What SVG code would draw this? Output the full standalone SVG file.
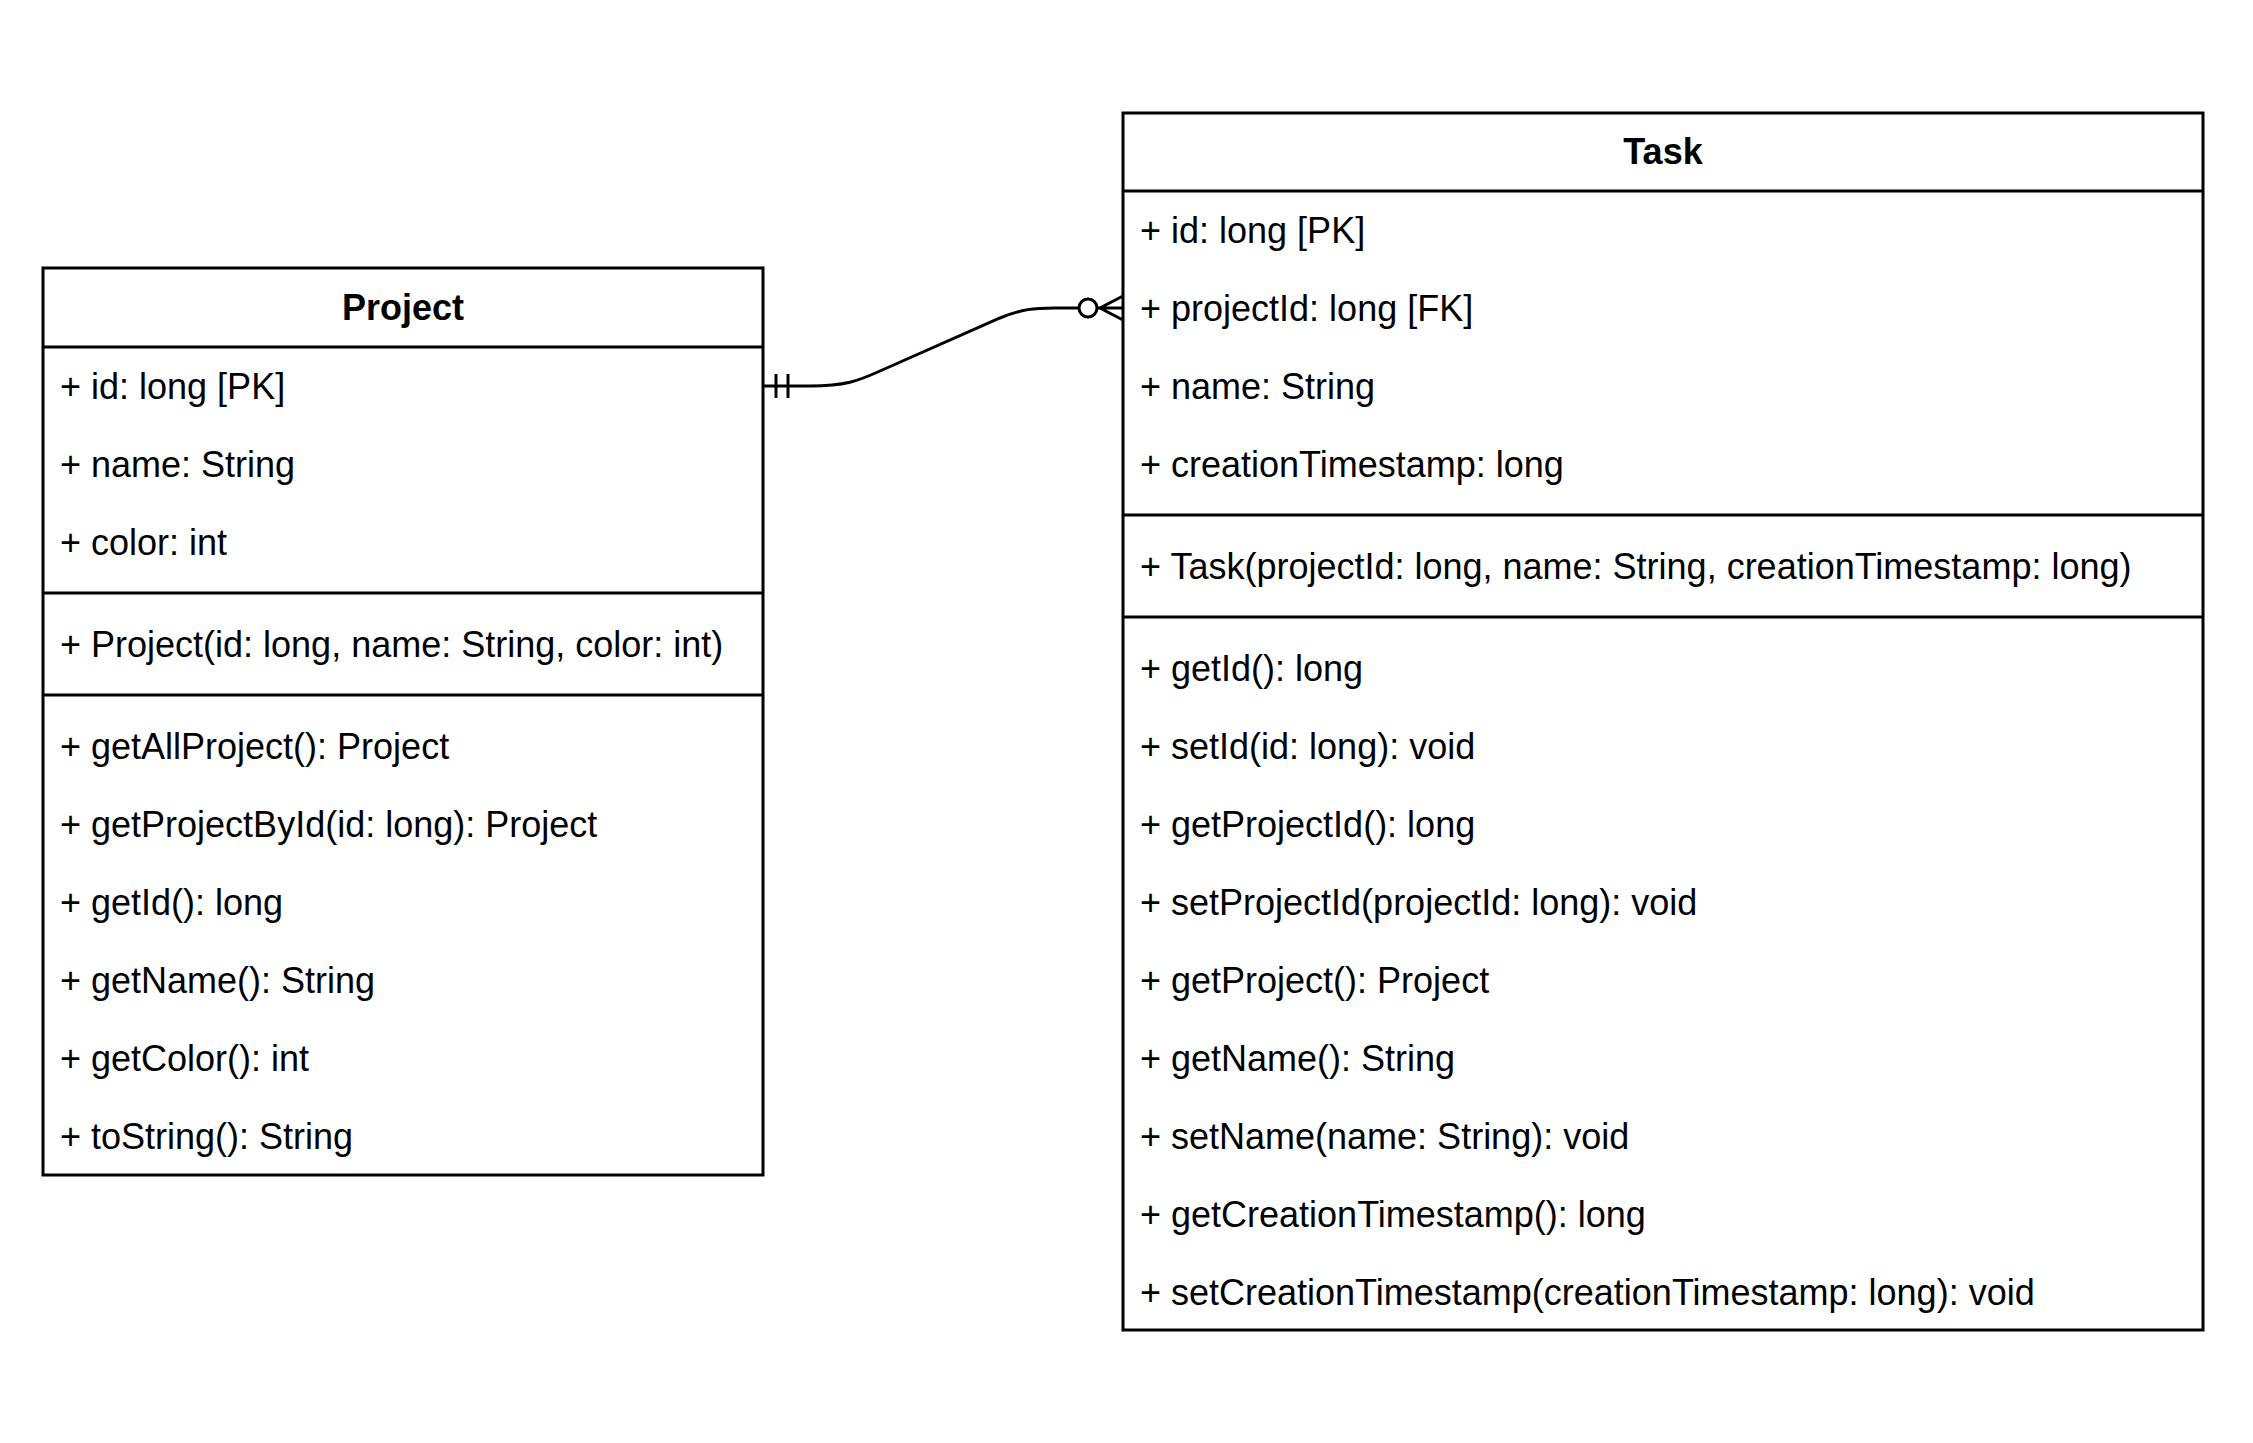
<svg xmlns="http://www.w3.org/2000/svg" width="2253" height="1443" viewBox="0 0 2253 1443">
<style>
.box{fill:#ffffff;stroke:#000000;stroke-width:3}
.ln{stroke:#000000;stroke-width:3;fill:none}
.t{font-family:"Liberation Sans",Arial,sans-serif;font-size:36px;fill:#000000}
.h{font-family:"Liberation Sans",Arial,sans-serif;font-size:36px;font-weight:bold;fill:#000000;text-anchor:middle}
</style>
<rect width="2253" height="1443" fill="#ffffff"/>
<g id="connectors">
<path class="ln" d="M763,386 L810,386 C845,386 858,381 880,371 L1000,318 C1022,309 1034,308 1055,308 L1078,308"/>
<line class="ln" x1="776" y1="374" x2="776" y2="398"/>
<line class="ln" x1="788" y1="374" x2="788" y2="398"/>
<circle class="ln" cx="1088" cy="308" r="9"/>
<path class="ln" d="M1097,308 L1123,308 M1123,296 L1100,308 L1123,320"/>
</g>
<g id="project">
<rect class="box" x="43" y="268" width="720" height="907"/>
<line class="ln" x1="43" y1="347" x2="763" y2="347"/>
<line class="ln" x1="43" y1="593" x2="763" y2="593"/>
<line class="ln" x1="43" y1="695" x2="763" y2="695"/>
<text class="h" x="403" y="320">Project</text>
<text class="t" x="60" y="399">+ id: long [PK]</text>
<text class="t" x="60" y="477">+ name: String</text>
<text class="t" x="60" y="555">+ color: int</text>
<text class="t" x="60" y="657">+ Project(id: long, name: String, color: int)</text>
<text class="t" x="60" y="759">+ getAllProject(): Project</text>
<text class="t" x="60" y="837">+ getProjectById(id: long): Project</text>
<text class="t" x="60" y="915">+ getId(): long</text>
<text class="t" x="60" y="993">+ getName(): String</text>
<text class="t" x="60" y="1071">+ getColor(): int</text>
<text class="t" x="60" y="1149">+ toString(): String</text>
</g>
<g id="task">
<rect class="box" x="1123" y="113" width="1080" height="1217"/>
<line class="ln" x1="1123" y1="191" x2="2203" y2="191"/>
<line class="ln" x1="1123" y1="515" x2="2203" y2="515"/>
<line class="ln" x1="1123" y1="617" x2="2203" y2="617"/>
<text class="h" x="1663" y="164">Task</text>
<text class="t" x="1140" y="243">+ id: long [PK]</text>
<text class="t" x="1140" y="321">+ projectId: long [FK]</text>
<text class="t" x="1140" y="399">+ name: String</text>
<text class="t" x="1140" y="477">+ creationTimestamp: long</text>
<text class="t" x="1140" y="579">+ Task(projectId: long, name: String, creationTimestamp: long)</text>
<text class="t" x="1140" y="681">+ getId(): long</text>
<text class="t" x="1140" y="759">+ setId(id: long): void</text>
<text class="t" x="1140" y="837">+ getProjectId(): long</text>
<text class="t" x="1140" y="915">+ setProjectId(projectId: long): void</text>
<text class="t" x="1140" y="993">+ getProject(): Project</text>
<text class="t" x="1140" y="1071">+ getName(): String</text>
<text class="t" x="1140" y="1149">+ setName(name: String): void</text>
<text class="t" x="1140" y="1227">+ getCreationTimestamp(): long</text>
<text class="t" x="1140" y="1305">+ setCreationTimestamp(creationTimestamp: long): void</text>
</g>
</svg>
